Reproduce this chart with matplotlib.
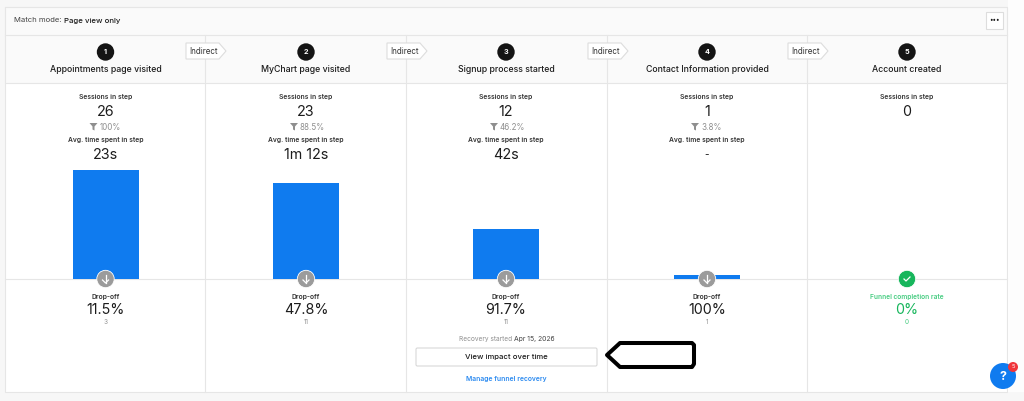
import matplotlib
matplotlib.use("Agg")
import matplotlib.pyplot as plt
from matplotlib.patches import Circle, FancyBboxPatch, Polygon, Rectangle

plt.rcParams['font.family'] = ['Inter', 'DejaVu Sans']

steps = ["Appointments page visited", "MyChart page visited", "Signup process started",
         "Contact Information provided", "Account created"]
sessions = [26, 23, 12, 1, 0]
step_pct = ["100%", "88.5%", "46.2%", "3.8%"]
avg_time = ["23s", "1m 12s", "42s", "-"]
dropoff = ["11.5%", "47.8%", "91.7%", "100%", "0%"]
dropoff_n = [3, 11, 11, 1, 0]

W, H = 1024, 401
centers = [105.5, 306, 506, 707, 907]
dividers = [205, 406, 607, 807]
indirect_x = [186, 387, 588, 788]
dark = "#1c1c1c"
grey = "#8f8f8f"
line = "#e6e6e6"
blue = "#0f7bef"
green = "#17b65c"

fig = plt.figure(figsize=(W / 100, H / 100), dpi=100, facecolor="#f7f7f7")
ax = fig.add_axes([0, 0, 1, 1])
ax.set_xlim(0, W)
ax.set_ylim(H, 0)
ax.axis("off")

# card and header bands
ax.add_patch(Rectangle((5, 7), 1002, 385, fc="white", ec=line, lw=0.8, zorder=0))
ax.add_patch(Rectangle((5, 7), 1002, 76, fc="#fafafa", ec=line, lw=0.8, zorder=1))
ax.plot([5, 1007], [35, 35], color=line, lw=0.8, zorder=2)
ax.plot([5, 1007], [279, 279], color=line, lw=0.8, zorder=2)
ax.add_patch(Rectangle((1007.5, 0), 16.5, 392, fc="#fdfdfd", ec="none", zorder=0))
for x in dividers:
    ax.plot([x, x], [35, 392], color=line, lw=0.8, zorder=2)

ax.text(14, 20.5, "Match mode:", fontsize=5.5, color="#444444", va="center")
ax.text(64, 20.5, "Page view only", fontsize=5.6, color=dark, va="center", fontweight="medium")

# menu button
ax.add_patch(Rectangle((986, 12), 17, 17, fc="white", ec="#dddddd", lw=0.8, zorder=3))
ax.text(994.5, 20, "•••", fontsize=4.5, color=dark, ha="center", va="center", zorder=4)

# step headers
for i, c in enumerate(centers):
    ax.add_patch(Circle((c, 52), 8.7, fc="#141414", ec="none", zorder=3))
    ax.text(c, 52, str(i + 1), fontsize=5.2, color="white", ha="center", va="center",
            fontweight="bold", zorder=4)
    ax.text(c, 69, steps[i], fontsize=6.3, color=dark, ha="center", va="center",
            fontweight="medium", zorder=4)

for x in indirect_x:
    ax.add_patch(Polygon([(x, 43), (x + 33, 43), (x + 40, 51), (x + 33, 59), (x, 59)],
                         closed=True, fc="white", ec="#dddddd", lw=0.8, zorder=5))
    ax.text(x + 3, 51, "Indirect", fontsize=5.8, color="#333333", va="center", zorder=6)

# stats per step
for i, c in enumerate(centers):
    ax.text(c, 96.5, "Sessions in step", fontsize=4.85, color="#333333", ha="center",
            va="center", fontweight="semibold")
    ax.text(c, 111.5, str(sessions[i]), fontsize=10.3, color=dark, ha="center", va="center")
    if i < 4:
        ax.add_patch(Polygon([(c - 16, 123), (c - 8, 123), (c - 11, 126.5), (c - 11, 130.5),
                              (c - 13, 129.5), (c - 13, 126.5)], closed=True, fc=grey, ec="none"))
        ax.text(c - 6, 127, step_pct[i], fontsize=5.8, color=grey, va="center")
        ax.text(c, 140, "Avg. time spent in step", fontsize=4.85, color="#333333", ha="center",
                va="center", fontweight="semibold")
        ax.text(c, 155, avg_time[i], fontsize=10.3 if i < 3 else 7, color=dark, ha="center", va="center")

# bars, on their own axes
ax_bar = fig.add_axes([5.4 / W, 1 - 279 / H, 1002 / W, 109 / H], facecolor="none")
ax_bar.set_xlim(-0.5, 4.5)
ax_bar.set_ylim(0, 26)
ax_bar.axis("off")
ax_bar.bar(range(len(sessions)), sessions, width=0.33, color=blue)

ax_top = fig.add_axes([0, 0, 1, 1], facecolor="none")
ax_top.set_xlim(0, W)
ax_top.set_ylim(H, 0)
ax_top.axis("off")

# drop-off badges and numbers
for i, c in enumerate(centers):
    col = green if i == 4 else "#9b9b9b"
    ax_top.add_patch(Circle((c, 279), 8.7, fc=col, ec="white", lw=0.6, zorder=3))
    if i < 4:
        ax_top.plot([c, c], [275, 283], color="white", lw=0.9, zorder=4)
        ax_top.plot([c - 3, c, c + 3], [280, 283, 280], color="white", lw=0.9, zorder=4)
        ax_top.text(c, 297, "Drop-off", fontsize=4.85, color="#333333", ha="center", va="center",
                    fontweight="semibold")
        ax_top.text(c, 310, dropoff[i], fontsize=10.3, color=dark, ha="center", va="center")
        ax_top.text(c, 322, str(dropoff_n[i]), fontsize=4.6, color=grey, ha="center", va="center")
    else:
        ax_top.plot([c - 3, c - 1, c + 3], [279, 281, 277], color="white", lw=0.9, zorder=4)
        ax_top.text(c, 297, "Funnel completion rate", fontsize=4.75, color="#45cc80", ha="center",
                    va="center", fontweight="semibold")
        ax_top.text(c, 310, dropoff[i], fontsize=10.3, color=green, ha="center", va="center")
        ax_top.text(c, 322, str(dropoff_n[i]), fontsize=4.6, color="#45cc80", ha="center", va="center")

# recovery block
ax_top.text(459, 339, "Recovery started", fontsize=4.7, color=grey, va="center")
ax_top.text(514, 339, "Apr 15, 2026", fontsize=4.9, color="#444444", va="center")
ax_top.add_patch(FancyBboxPatch((416, 348), 181, 18, boxstyle="round,pad=0,rounding_size=1.5",
                                fc="white", ec="#d8d8d8", lw=0.8))
ax_top.text(506.5, 357, "View impact over time", fontsize=5.6, color=dark, ha="center", va="center",
            fontweight="medium")
ax_top.text(506, 379.5, "Manage funnel recovery", fontsize=4.85, color="#2b8af0", ha="center",
            va="center", fontweight="semibold")

# hand drawn arrow
ax_top.add_patch(Polygon([(607, 355), (620, 343), (692, 343), (694, 345), (694, 364), (692, 367),
                          (620, 367)], closed=True, fc="white", ec="black", lw=2.9, joinstyle="round"))

# help button
ax_top.add_patch(Circle((1003, 376), 13, fc="#0f7bef", ec="none", zorder=5))
ax_top.text(1003, 377, "?", fontsize=9, color="white", ha="center", va="center",
            fontweight="bold", zorder=6)
ax_top.add_patch(Circle((1013, 367), 5, fc="#f0353b", ec="none", zorder=7))
ax_top.text(1013, 367, "5", fontsize=4.2, color="white", ha="center", va="center", zorder=8)

fig.savefig("out.png", dpi=100, facecolor=fig.get_facecolor())
